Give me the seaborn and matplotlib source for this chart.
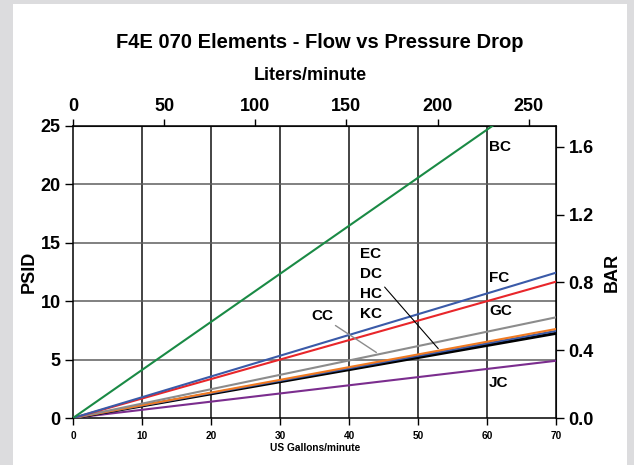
import numpy as np
import pandas as pd
import matplotlib
matplotlib.use("Agg")
import matplotlib.pyplot as plt
import seaborn as sns
from matplotlib.patches import Rectangle

# %% DATA
flow_gpm = [0, 70]
series_names = ["JC", "KC", "HC", "DC", "GC", "FC-red", "FC-blue", "BC"]
end_psid = [4.9, 7.25, 7.45, 7.62, 8.62, 11.67, 12.44, 28.8]
series_colors = ["#7b2d8e", "#000000", "#3a5aa8", "#f07a22", "#8c8c8c",
                 "#e8262a", "#3a5aa8", "#1a8a45"]
series_widths = [1.5, 2.2, 1.5, 1.5, 1.5, 1.5, 1.5, 1.5]

label_text = ["BC", "FC", "GC", "JC", "EC", "DC", "HC", "KC", "CC"]
label_x = [60.3, 60.3, 60.3, 60.3, 41.6, 41.6, 41.6, 41.6, 34.6]
label_y = [23.2, 12.0, 9.16, 3.0, 14.04, 12.33, 10.6, 8.9, 8.73]

psi_to_bar = 0.0689476
gal_to_l = 3.78541

rows = []
for name, end in zip(series_names, end_psid):
    for x, frac in zip(flow_gpm, [0.0, 1.0]):
        rows.append({"gpm": x, "psid": end * frac, "series": name})
df = pd.DataFrame(rows)

# %% PLOT
sns.set_style("white")
plt.rcParams["font.family"] = ["Liberation Sans", "DejaVu Sans"]
plt.rcParams["font.weight"] = "bold"
plt.rcParams["text.color"] = "black"
plt.rcParams["xtick.color"] = "black"
plt.rcParams["ytick.color"] = "black"

fig = plt.figure(figsize=(6.34, 4.65), dpi=100)
fig.patch.set_facecolor("#dcdcde")
fig.patches.append(Rectangle((13 / 634, 0), 614 / 634, 461 / 465,
                             transform=fig.transFigure, facecolor="white",
                             edgecolor="none", zorder=-5))

ax = fig.add_axes([73 / 634, 47 / 465, 483 / 634, 292 / 465])
ax.set_zorder(2)
ax.set_facecolor("white")

for x in range(10, 70, 10):
    ax.axvline(x, color="#111111", lw=1.1, zorder=1)
for y in range(5, 25, 5):
    ax.axhline(y, color="#5e5e5e", lw=1.1, zorder=1)

for name, c, w in zip(series_names, series_colors, series_widths):
    sns.lineplot(data=df[df["series"] == name], x="gpm", y="psid", color=c,
                 lw=w, ax=ax, zorder=3)

ax.set_xlim(0, 70)
ax.set_ylim(0, 25)
ax.set_xticks(range(0, 71, 10))
ax.set_yticks(range(0, 26, 5))
ax.set_xlabel("")
ax.set_ylabel("")
for s in ax.spines.values():
    s.set_color("black")
    s.set_linewidth(1.1)
ax.tick_params(axis="x", direction="out", length=5, width=1, labelsize=7.3,
               pad=4, bottom=True, colors="black")
ax.tick_params(axis="y", direction="out", length=6, width=1, labelsize=13,
               pad=3, left=True, colors="black")
for t in ax.get_xticklabels() + ax.get_yticklabels():
    t.set_fontweight("bold")

top = ax.secondary_xaxis("top", functions=(lambda v: v * gal_to_l,
                                           lambda v: v / gal_to_l))
top.set_xticks(range(0, 251, 50))
top.tick_params(direction="out", length=5, width=1, labelsize=13, pad=3,
                colors="black")
right = ax.secondary_yaxis("right", functions=(lambda v: v * psi_to_bar,
                                               lambda v: v / psi_to_bar))
right.set_yticks([0.0, 0.4, 0.8, 1.2, 1.6])
right.set_yticklabels(["0.0", "0.4", "0.8", "1.2", "1.6"])
right.tick_params(direction="out", length=6, width=1, labelsize=13, pad=3,
                  colors="black")
for t in top.get_xticklabels() + right.get_yticklabels():
    t.set_fontweight("bold")

for txt, x, y in zip(label_text, label_x, label_y):
    ax.text(x, y, txt, fontsize=11, fontweight="bold", va="center",
            ha="left", zorder=5)

ax.annotate("", xy=(53.2, 5.76), xytext=(44.9, 11.39),
            arrowprops=dict(arrowstyle="-", color="black", lw=0.8), zorder=5)
ax.annotate("", xy=(44.3, 5.48), xytext=(37.7, 8.05),
            arrowprops=dict(arrowstyle="-", color="#8c8c8c", lw=1.0), zorder=5)

fig.text(320 / 634, 1 - 42 / 465, "F4E 070 Elements - Flow vs Pressure Drop",
         ha="center", va="center", fontsize=14.5, fontweight="bold")
fig.text(310 / 634, 1 - 75 / 465, "Liters/minute", ha="center", va="center",
         fontsize=13, fontweight="bold")
fig.text(315 / 634, 1 - 448 / 465, "US Gallons/minute", ha="center",
         va="center", fontsize=7.3, fontweight="bold")
fig.text(29 / 634, 1 - 272 / 465, "PSID", rotation=90, ha="center",
         va="center", fontsize=13, fontweight="bold")
fig.text(612 / 634, 1 - 272 / 465, "BAR", rotation=90, ha="center",
         va="center", fontsize=13, fontweight="bold")

fig.savefig("out.png", dpi=100, facecolor=fig.get_facecolor())
